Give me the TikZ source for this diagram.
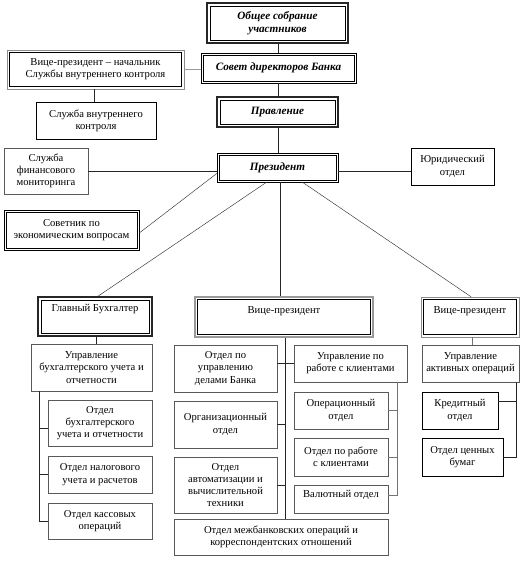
\documentclass[tikz,border=0pt]{standalone}
\usepackage{fontspec}
\setmainfont{Liberation Serif}
\begin{document}
\begin{tikzpicture}[x=1pt,y=-1pt,
  box/.style={draw, line width=0.5pt, inner sep=0pt, align=center, font=\fontsize{10.6}{12.3}\selectfont},
  gbox/.style={box, draw=black!65},
  dbl/.style={box, draw=black,
    path picture={\draw[line width=0.5pt,black] ([shift={(2.2pt,-2.2pt)}]path picture bounding box.north west) rectangle ([shift={(-2.2pt,2.2pt)}]path picture bounding box.south east);}},
  thickthin/.style={box, line width=1.6pt, draw=black!85,
    path picture={\draw[line width=0.5pt,black] ([shift={(3pt,-3pt)}]path picture bounding box.north west) rectangle ([shift={(-3pt,3pt)}]path picture bounding box.south east);}},
  thinthick/.style={box, draw=black!45,
    path picture={\draw[line width=1.2pt,black] ([shift={(2.6pt,-2.6pt)}]path picture bounding box.north west) rectangle ([shift={(-2.6pt,2.6pt)}]path picture bounding box.south east);}},
  greydbl/.style={box, line width=1.2pt, draw=black!40,
    path picture={\draw[line width=0.7pt,black] ([shift={(2.6pt,-2.6pt)}]path picture bounding box.north west) rectangle ([shift={(-2.6pt,2.6pt)}]path picture bounding box.south east);}},
  bi/.style={font=\fontsize{11.2}{12.5}\selectfont\bfseries\itshape},
  conn/.style={line width=0.6pt, black!85},
  diag/.style={line width=0.45pt, black!80}
]
\newcommand\bx[7]{\node[#6, minimum width={#4pt-#2pt}, minimum height={#5pt-#3pt}] (#1) at ({(#2+#4)/2},{(#3+#5)/2}) {#7};}
\useasboundingbox (0,0) rectangle (528,561);
\fill[white] (0,0) rectangle (528,561);

% top chain
\bx{obs}{207}{3}{348}{43}{thickthin,bi}{Общее собрание\\участников}
\bx{sovet}{201}{53}{356}{83}{dbl,bi}{Совет директоров Банка}
\bx{vpk}{7}{50}{184}{89}{thinthick}{Вице-президент – начальник\\Службы внутреннего контроля}
\bx{svk}{36}{102}{156}{139}{box}{Служба внутреннего\\контроля}
\bx{pravl}{217}{97}{338}{127}{thickthin,bi}{Правление}
\bx{pres}{217}{153}{338}{182}{dbl,bi}{Президент}
\bx{sfm}{4}{148}{88}{194}{gbox}{Служба\\финансового\\мониторинга}
\bx{jur}{411}{148}{494}{185}{box}{Юридический\\отдел}
\bx{sov}{4}{210}{139}{250}{dbl}{Советник по\\экономическим вопросам}

% second level
\bx{gb}{38}{297}{152}{336}{thickthin,text depth=17pt}{Главный Бухгалтер}
\bx{vpm}{195}{297}{373}{337}{greydbl,text depth=14pt}{Вице-президент}
\bx{vpr}{421}{297}{519}{337}{thinthick,text depth=14pt}{Вице-президент}

% left column
\bx{ubu}{31}{344}{152}{391}{gbox}{Управление\\бухгалтерского учета и\\отчетности}
\bx{ob1}{48}{400}{152}{446}{gbox}{Отдел\\бухгалтерского\\учета и отчетности}
\bx{ob2}{48}{456}{152}{493}{gbox}{Отдел налогового\\учета и расчетов}
\bx{ob3}{48}{503}{152}{539}{gbox}{Отдел кассовых\\операций}

% middle column
\bx{m1}{174}{345}{277}{392}{gbox}{Отдел по\\управлению\\делами Банка}
\bx{m2}{174}{401}{277}{448}{gbox}{Организационный\\отдел}
\bx{m3}{174}{457}{277}{513}{gbox}{Отдел\\автоматизации и\\вычислительной\\техники}
\bx{m4}{174}{519}{388}{555}{gbox}{Отдел межбанковских операций и\\корреспондентских отношений}
\bx{uk}{294}{345}{407}{382}{gbox}{Управление по\\работе с клиентами}
\bx{k1}{294}{392}{388}{429}{gbox}{Операционный\\отдел}
\bx{k2}{294}{438}{388}{476}{gbox}{Отдел по работе\\с клиентами}
\bx{k3}{294}{485}{388}{513}{gbox,text depth=10pt}{Валютный отдел}

% right column
\bx{ua}{422}{345}{519}{382}{gbox}{Управление\\активных операций}
\bx{a1}{422}{392}{498}{429}{box}{Кредитный\\отдел}
\bx{a2}{422}{438}{503}{476}{box}{Отдел ценных\\бумаг}

% helper coordinates
\coordinate (cx) at (278,0);
\coordinate (px) at (280,0);
\coordinate (vkx) at (94,0);
\coordinate (gbx) at (96,0);
\coordinate (lb) at (39,0);
\coordinate (mx) at (285,0);
\coordinate (kb) at (397,0);
\coordinate (vrx) at (472,0);
\coordinate (ab) at (516,0);

% connectors top
\draw[conn] (obs.south -| cx) -- (sovet.north -| cx);
\draw[conn] (sovet.south -| cx) -- (pravl.north -| cx);
\draw[conn] (pravl.south -| cx) -- (pres.north -| cx);
\draw[line width=0.6pt, black!40] (vpk.east) -- (vpk.east -| sovet.west);
\draw[conn] (vpk.south -| vkx) -- (svk.north -| vkx);
\draw[conn] (pres.west |- sfm.east) -- (sfm.east);
\draw[conn] (pres.east |- sfm.east) -- (jur.west |- sfm.east);
\draw[diag] ([yshift=-6pt]pres.west) -- ([yshift=-3pt]sov.east);
\draw[diag] ([xshift=-11pt]pres.south) -- (gb.north -| 98,0);
\draw[conn] (pres.south -| px) -- (vpm.north -| px);
\draw[diag] ([xshift=25pt]pres.south) -- (vpr.north -| 471,0);

% left column
\draw[conn] (gb.south -| gbx) -- (ubu.north -| gbx);
\draw[conn] (ubu.south -| lb) |- (ob3.west);
\draw[conn] ([yshift=-5pt]ob1.west -| lb) -- ([yshift=-5pt]ob1.west);
\draw[conn] (ob2.west -| lb) -- (ob2.west);

% middle column
\draw[conn] (vpm.south -| mx) -- (m4.north -| mx);
\draw[conn] (m1.east |- uk.west) -- (uk.west);
\draw[conn] (m2.east) -- (m2.east -| mx);
\draw[conn] (m3.east) -- (m3.east -| mx);
\draw[line width=0.6pt, black!55] (uk.south -| kb) |- ([yshift=4pt]k3.east);
\draw[line width=0.6pt, black!55] (k1.east) -- (k1.east -| kb);
\draw[line width=0.6pt, black!55] (k2.east) -- (k2.east -| kb);

% right column
\draw[line width=0.6pt, black!55] (vpr.south -| vrx) -- (ua.north -| vrx);
\draw[conn] (ua.south -| ab) |- (a2.east);
\draw[conn] ([yshift=9pt]a1.east) -- ([yshift=9pt]a1.east -| ab);
\end{tikzpicture}
\end{document}
